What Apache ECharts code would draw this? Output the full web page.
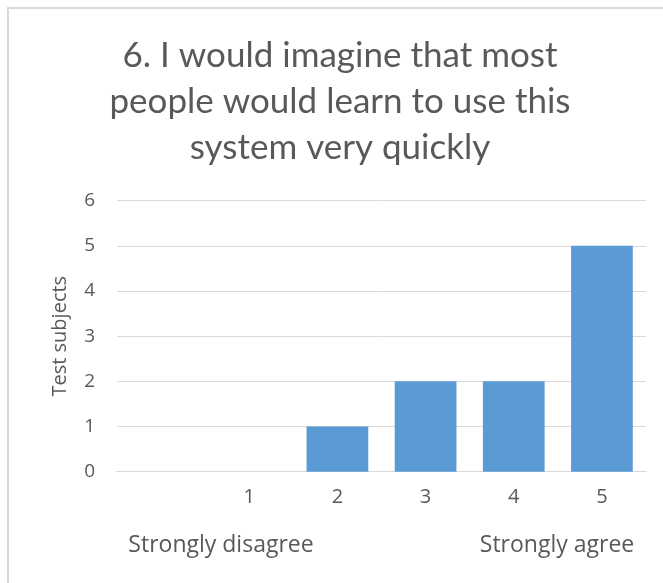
<!DOCTYPE html>
<html><head><meta charset="utf-8">
<script src="https://cdn.jsdelivr.net/npm/echarts@6/dist/echarts.min.js"></script>
<style>html,body{margin:0;padding:0;background:#fff}#c{width:663px;height:583px}</style>
</head><body><div id="c"></div>
<script>
var titleLines = ['6. I would imagine that most', 'people would learn to use this', 'system very quickly'];
var categories = ['', '1', '2', '3', '4', '5'];
var values = [0, 0, 1, 2, 2, 5];
var yTicks = [0, 1, 2, 3, 4, 5, 6];
var yAxisName = 'Test subjects';
var endLabels = ['Strongly disagree', 'Strongly agree'];

var chart = echarts.init(document.getElementById('c'), null, {renderer: 'canvas'});
var tfont = 'Lato, "Open Sans", sans-serif';
var font = '"Open Sans", Lato, sans-serif';
var grey = '#595959';
chart.setOption({
  animation: false,
  backgroundColor: '#fff',
  graphic: [
    {type: 'rect', shape: {x: 8, y: 8, width: 700, height: 620}, style: {fill: 'none', stroke: '#d9d9d9', lineWidth: 2}},
    {type: 'text', x: 340, y: 33, style: {text: titleLines.join('\n'), fill: grey, font: '35px ' + tfont, align: 'center', verticalAlign: 'top', lineHeight: 46}},
    {type: 'text', x: 221, y: 545, style: {text: endLabels[0], fill: grey, font: '23px ' + font, align: 'center', verticalAlign: 'middle'}},
    {type: 'text', x: 557, y: 545, style: {text: endLabels[1], fill: grey, font: '23px ' + font, align: 'center', verticalAlign: 'middle'}}
  ],
  grid: {left: 117, right: 17, top: 200.7, bottom: 111.3},
  xAxis: {
    type: 'category', data: categories,
    axisLine: {lineStyle: {color: '#d9d9d9', width: 1}},
    axisTick: {show: false},
    axisLabel: {color: grey, fontSize: 20, fontFamily: font, margin: 16}
  },
  yAxis: {
    type: 'value', min: yTicks[0], max: yTicks[yTicks.length - 1], interval: 1,
    name: yAxisName, nameLocation: 'middle', nameGap: 47, nameRotate: 90,
    nameTextStyle: {color: grey, fontSize: 20, fontFamily: font},
    axisLine: {show: false}, axisTick: {show: false},
    axisLabel: {color: grey, fontSize: 19, fontFamily: font, margin: 22},
    splitLine: {lineStyle: {color: '#d9d9d9', width: 1}}
  },
  series: [{
    type: 'bar', data: values, barCategoryGap: '30%',
    itemStyle: {color: '#5b9bd5'}
  }]
});
</script></body></html>
